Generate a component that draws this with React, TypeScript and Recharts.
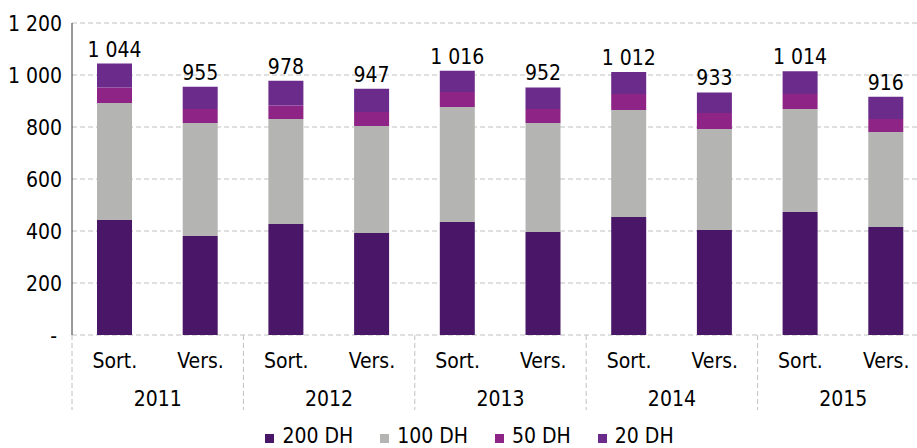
import { BarChart, Bar, XAxis, YAxis, CartesianGrid, Legend, LabelList } from 'recharts';

const categories = ['Sort.', 'Vers.', 'Sort.', 'Vers.', 'Sort.', 'Vers.', 'Sort.', 'Vers.', 'Sort.', 'Vers.'];
const years = ['2011', '2011', '2012', '2012', '2013', '2013', '2014', '2014', '2015', '2015'];
const dh200 = [442, 381, 427, 392, 435, 396, 454, 404, 473, 415];
const dh100 = [450, 434, 404, 412, 442, 419, 411, 388, 396, 366];
const dh50 = [60, 54, 52, 54, 58, 54, 62, 62, 58, 50];
const dh20 = [92, 86, 95, 89, 81, 83, 85, 79, 87, 85];
const totals = [1044, 955, 978, 947, 1016, 952, 1012, 933, 1014, 916];
const yTicks = [0, 200, 400, 600, 800, 1000, 1200];

const series = [
  { key: 'dh200', name: '200 DH', color: '#4a1768' },
  { key: 'dh100', name: '100 DH', color: '#b4b5b3' },
  { key: 'dh50', name: '50 DH', color: '#8e2586' },
  { key: 'dh20', name: '20 DH', color: '#6a2b8b' },
];

const data = categories.map((cat, i) => ({
  cat,
  year: years[i],
  dh200: dh200[i],
  dh100: dh100[i],
  dh50: dh50[i],
  dh20: dh20[i],
  total: totals[i],
}));

const FONT = "'DejaVu Sans Condensed', 'DejaVu Sans', sans-serif";
const FS = 21;
const GRID = '#c0c0c0';

const fmt = (v: number) => (v === 0 ? '-' : v.toLocaleString('en-US').replace(/,/g, ' '));

function YTick({ x, y, payload }: any) {
  const v = payload.value;
  return (
    <text x={v === 0 ? x - 5 : x} y={y} dy="0.36em" textAnchor="end" fontSize={FS} fill="#000" fontFamily={FONT}>
      {fmt(v)}
    </text>
  );
}

function CatTick({ x, y, payload, index }: any) {
  const half = payload.offset ?? 42.85;
  return (
    <g>
      {index % 2 === 0 && (
        <line x1={x - half} x2={x - half} y1={y} y2={y + 75} stroke={GRID} strokeDasharray="5 3" />
      )}
      <text x={x} y={y} dy={33} textAnchor="middle" fontSize={FS} fill="#000" fontFamily={FONT}>
        {payload.value}
      </text>
    </g>
  );
}

function YearTick({ x, y, payload }: any) {
  return (
    <text x={x} y={y} dy={26} textAnchor="middle" fontSize={FS} fill="#000" fontFamily={FONT}>
      {payload.value}
    </text>
  );
}

function TotalLabel({ x, y, width, value }: any) {
  return (
    <text x={x + width / 2} y={y - 7} textAnchor="middle" fontSize={FS} fill="#000" fontFamily={FONT}>
      {fmt(Number(value))}
    </text>
  );
}

function LegendContent() {
  return (
    <div style={{ display: 'flex', justifyContent: 'center', gap: 27, marginLeft: 10, marginTop: 4, fontFamily: FONT, fontSize: FS }}>
      {series.map((s) => (
        <div key={s.key} style={{ display: 'flex', alignItems: 'center', gap: 8 }}>
          <span style={{ width: 9, height: 9, background: s.color, display: 'inline-block', marginTop: 4 }} />
          <span style={{ color: '#000' }}>{s.name}</span>
        </div>
      ))}
    </div>
  );
}

export default function App() {
  return (
    <div style={{ position: 'absolute', left: 0, top: 0, width: 917, height: 448, overflow: 'hidden', background: '#fff' }}>
      <BarChart width={929} height={448} data={data} margin={{ top: 23, right: 0, left: 0, bottom: 0 }}>
        <CartesianGrid vertical={false} stroke={GRID} strokeDasharray="5 3" />
        <XAxis
          xAxisId="cat"
          dataKey="cat"
          height={45}
          axisLine={false}
          tickLine={false}
          tickSize={0}
          tickMargin={0}
          interval={0}
          tick={<CatTick />}
        />
        <XAxis
          xAxisId="year"
          dataKey="year"
          allowDuplicatedCategory={false}
          height={40}
          axisLine={false}
          tickLine={false}
          tickSize={0}
          tickMargin={0}
          interval={0}
          tick={<YearTick />}
        />
        <YAxis
          width={72}
          domain={[0, 1200]}
          ticks={yTicks}
          axisLine={{ stroke: '#333' }}
          tickLine={false}
          tickSize={0}
          tickMargin={10}
          tick={<YTick />}
        />
        <Legend verticalAlign="bottom" height={28} content={<LegendContent />} />
        {series.map((s) => (
          <Bar
            key={s.key}
            xAxisId="cat"
            dataKey={s.key}
            name={s.name}
            stackId="a"
            fill={s.color}
            barSize={35}
            isAnimationActive={false}
          >
            {s.key === 'dh20' && <LabelList dataKey="total" content={<TotalLabel />} />}
          </Bar>
        ))}
      </BarChart>
    </div>
  );
}
